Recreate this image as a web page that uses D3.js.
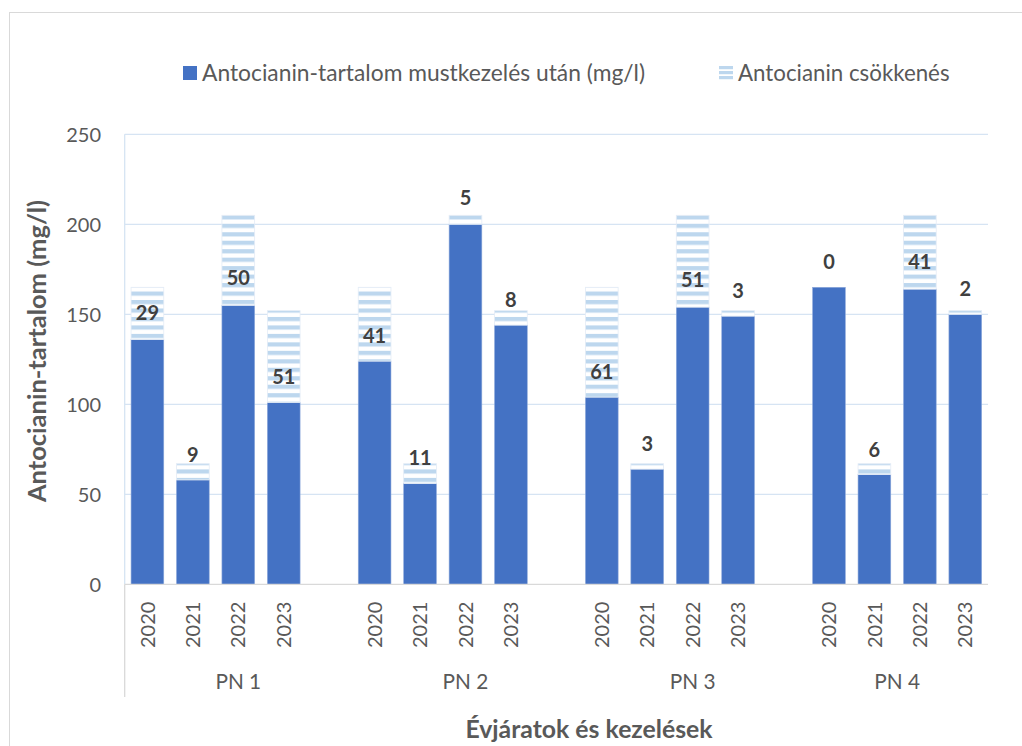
<!DOCTYPE html>
<html><head><meta charset="utf-8">
<script src="https://cdn.jsdelivr.net/npm/d3@7/dist/d3.min.js"></script>
<style>body{margin:0;background:#fff} text{font-family:Lato, "Noto Sans", sans-serif}</style>
</head><body><svg id="c" width="1022" height="746"></svg>
<script>
// ---- data ----
const groups = ["PN 1", "PN 2", "PN 3", "PN 4"];
const years = ["2020", "2021", "2022", "2023"];
const afterTreatment = [136, 58, 155, 101, 124, 56, 200, 144, 104, 64, 154, 149, 165, 61, 164, 150];
const decrease = [29, 9, 50, 51, 41, 11, 5, 8, 61, 3, 51, 3, 0, 6, 41, 2];
// label placement (value units)
const labelAt = [150.6, 71.8, 170.3, 115.3, 137.9, 70.3, 215, 158, 117.8, 78.3, 169, 163, 179.2, 75, 178.9, 163.9];
const yTicks = [0, 50, 100, 150, 200, 250];
const seriesNames = ["Antocianin-tartalom mustkezelés után (mg/l)", "Antocianin csökkenés"];
const yTitle = "Antocianin-tartalom (mg/l)";
const xTitle = "Évjáratok és kezelések";

// ---- layout ----
const svg = d3.select("#c");
const L = 124.7, R = 988, T = 134.3, B = 584.3;
const dark = "#4472C4", light = "#BDD7EE", txt = "#595959";

const rows = [];
groups.forEach((g, gi) => years.forEach((yr, yi) => {
  const k = gi * 4 + yi;
  rows.push({ g, yr, slot: gi * 5 + yi, base: afterTreatment[k], dec: decrease[k], lab: labelAt[k] });
}));

const x = d3.scaleBand().domain(d3.range(19)).range([L, R]).paddingInner(0.28).paddingOuter(0.14);
const y = d3.scaleLinear().domain([0, 250]).range([B, T]);

// pattern
const defs = svg.append("defs");
const pat = defs.append("pattern").attr("id", "hz").attr("patternUnits", "userSpaceOnUse")
  .attr("x", 0).attr("y", 215.3).attr("width", 8).attr("height", 8.47);
pat.append("rect").attr("width", 8).attr("height", 8.47).attr("fill", "#fff");
pat.append("rect").attr("width", 8).attr("height", 4.2).attr("fill", light);

// chart border
svg.append("rect").attr("x", 9.5).attr("y", 12.5).attr("width", 1040).attr("height", 760)
  .attr("fill", "#fff").attr("stroke", "#D9D9D9").attr("stroke-width", 1);

// gridlines
svg.append("g").selectAll("line").data(yTicks.filter(d => d > 0)).join("line")
  .attr("x1", L).attr("x2", R).attr("y1", d => y(d)).attr("y2", d => y(d))
  .attr("stroke", "#D6E4F3").attr("stroke-width", 1.3);
// value axis line
svg.append("line").attr("x1", L).attr("x2", L).attr("y1", T).attr("y2", B)
  .attr("stroke", "#D6E4F3").attr("stroke-width", 1.3);

// y tick labels
const yAxis = d3.axisLeft(y).tickValues(yTicks).tickSize(0).tickPadding(0);
const ya = svg.append("g").attr("transform", `translate(101,0)`).call(yAxis);
ya.select(".domain").remove();
ya.selectAll("text").attr("font-size", 20).attr("fill", txt).attr("dy", "0.36em")
  .style("font-family", "Lato, sans-serif");

// bars
const bars = svg.append("g");
bars.selectAll("rect.base").data(rows).join("rect").attr("class", "base")
  .attr("x", d => x(d.slot)).attr("width", x.bandwidth())
  .attr("y", d => y(d.base)).attr("height", d => y(0) - y(d.base))
  .attr("fill", dark).attr("stroke", "#8EA9DB").attr("stroke-width", 0.6);
bars.selectAll("rect.dec").data(rows.filter(d => d.dec > 0)).join("rect").attr("class", "dec")
  .attr("x", d => x(d.slot)).attr("width", x.bandwidth())
  .attr("y", d => y(d.base + d.dec)).attr("height", d => y(d.base) - y(d.base + d.dec))
  .attr("fill", "url(#hz)").attr("stroke", "#E4ECF6").attr("stroke-width", 0.8);

// data labels
svg.append("g").selectAll("text").data(rows).join("text")
  .attr("x", d => x(d.slot) + x.bandwidth() / 2).attr("y", d => y(d.lab))
  .attr("dy", "0.36em").attr("text-anchor", "middle")
  .attr("font-size", 20).attr("font-weight", "bold").attr("fill", "#404040")
  .text(d => d.dec);

// category axis line
svg.append("line").attr("x1", L).attr("x2", R).attr("y1", B).attr("y2", B)
  .attr("stroke", "#D9D9D9").attr("stroke-width", 1.3);
svg.append("line").attr("x1", L).attr("x2", L).attr("y1", B).attr("y2", 697)
  .attr("stroke", "#D9D9D9").attr("stroke-width", 1.3);

// year labels (rotated)
svg.append("g").selectAll("text").data(rows).join("text")
  .attr("transform", d => `translate(${x(d.slot) + x.bandwidth() / 2},648) rotate(-90)`)
  .attr("dy", "0.36em").attr("text-anchor", "start")
  .attr("font-size", 20).attr("fill", txt).text(d => d.yr);

// group labels
svg.append("g").selectAll("text").data(groups).join("text")
  .attr("x", (d, i) => {
    const first = L + x.step() * (i * 5);
    const n = i < groups.length - 1 ? 5 : 4;
    return first + x.step() * n / 2;
  })
  .attr("y", 689).attr("text-anchor", "middle")
  .attr("font-size", 20.8).attr("fill", txt).text(d => d);

// axis titles
svg.append("text").attr("x", 589).attr("y", 738).attr("text-anchor", "middle")
  .attr("font-size", 24.8).attr("font-weight", "bold").attr("fill", txt).text(xTitle);
svg.append("text").attr("transform", "translate(46,351) rotate(-90)").attr("text-anchor", "middle")
  .attr("font-size", 25.5).attr("font-weight", "bold").attr("fill", txt).text(yTitle);

// legend
const lg = svg.append("g");
lg.append("rect").attr("x", 183).attr("y", 66).attr("width", 14).attr("height", 14).attr("fill", dark);
lg.append("text").attr("x", 202).attr("y", 80.5).attr("font-size", 22.8).attr("fill", txt).text(seriesNames[0]);
const kp = defs.append("pattern").attr("id", "hzk").attr("patternUnits", "userSpaceOnUse")
  .attr("x", 0).attr("y", 66).attr("width", 8).attr("height", 5);
kp.append("rect").attr("width", 8).attr("height", 5).attr("fill", "#fff");
kp.append("rect").attr("width", 8).attr("height", 3.2).attr("fill", light);
lg.append("rect").attr("x", 719).attr("y", 66).attr("width", 14).attr("height", 14).attr("fill", "url(#hzk)");
lg.append("text").attr("x", 738).attr("y", 80.5).attr("font-size", 22.3).attr("fill", txt).text(seriesNames[1]);
</script></body></html>
